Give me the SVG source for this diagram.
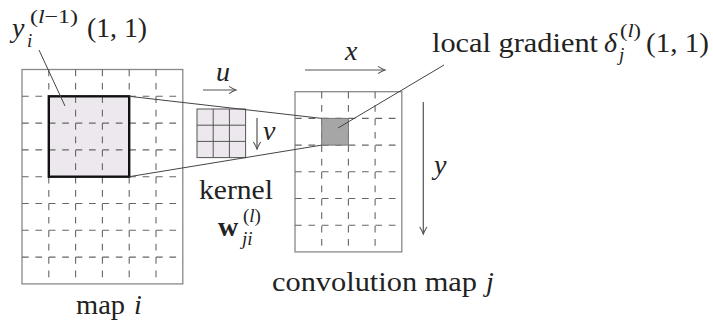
<svg xmlns="http://www.w3.org/2000/svg" width="713" height="324" viewBox="0 0 713 324">
<defs>
<marker id="ah" markerUnits="userSpaceOnUse" markerWidth="12" markerHeight="12" viewBox="-8 -6 10 12" refX="0" refY="0" orient="auto">
<path d="M -7 -3.6 Q -2.5 -0.8 0 0 Q -2.5 0.8 -7 3.6" fill="none" stroke="#555" stroke-width="1.1"/>
</marker>
<style>
.frame{fill:none;stroke:#888;stroke-width:1.3}
.dash{stroke:#666;stroke-width:1.1;stroke-dasharray:6.7 6.7;fill:none}
.kgrid{stroke:#555;stroke-width:1;fill:none}
.lead{stroke:#444;stroke-width:1;fill:none}
.arr{stroke:#555;stroke-width:1.2;fill:none;marker-end:url(#ah)}
text{fill:#222}
.t{font-size:28px}
.s{font-size:19px}
.it{font-style:italic}
</style>
</defs>
<rect width="713" height="324" fill="#fff"/>

<g font-family="Liberation Serif, Times New Roman, Times, DejaVu Serif, serif">
<g id="map-i">
<rect x="48.8" y="96.3" width="80.4" height="80.4" fill="#ede8ee"/>
<rect class="frame" x="22" y="69.5" width="160.8" height="214.4"/>
<g class="dash">
<path d="M48.8 69.5V283.9M75.6 69.5V283.9M102.4 69.5V283.9M129.2 69.5V283.9M156 69.5V283.9"/>
<path d="M22 96.3H182.8M22 123.1H182.8M22 149.9H182.8M22 176.7H182.8M22 203.5H182.8M22 230.3H182.8M22 257.1H182.8"/>
</g>
<rect x="48.8" y="96.3" width="80.4" height="80.4" fill="none" stroke="#111" stroke-width="2.4"/>
<text class="t" x="76" y="314" textLength="49" lengthAdjust="spacingAndGlyphs">map</text>
<text class="t it" x="134" y="314">i</text>
</g>

<g id="kernel">
<rect x="197" y="109" width="48.6" height="48.6" fill="#ede8ee" stroke="#555" stroke-width="1"/>
<path class="kgrid" d="M213.2 109V157.6M229.4 109V157.6M197 125.2H245.6M197 141.4H245.6"/>
<text class="t" x="199" y="199" textLength="74" lengthAdjust="spacingAndGlyphs">kernel</text>
<text class="t" x="218" y="236" font-weight="bold">w</text>
<text class="s" x="243" y="222"><tspan>(</tspan><tspan class="it">l</tspan><tspan>)</tspan></text>
<text class="s it" x="242" y="245">ji</text>
</g>

<g id="conv-map">
<rect class="frame" x="295" y="91.7" width="106.8" height="160.2"/>
<g class="dash">
<path d="M321.7 91.7V251.9M348.4 91.7V251.9M375.1 91.7V251.9"/>
<path d="M295 118.4H401.8M295 145.1H401.8M295 171.8H401.8M295 198.5H401.8M295 225.2H401.8"/>
</g>
<rect x="321.7" y="118.4" width="26.7" height="26.7" fill="#a6a6a6" stroke="#777" stroke-width="1"/>
<text class="t" x="272" y="291" textLength="205" lengthAdjust="spacingAndGlyphs">convolution map</text>
<text class="t it" x="486" y="291">j</text>
</g>

<g id="label-y-input">
<text class="t it" x="12" y="37">y</text>
<text class="s it" x="27" y="47">i</text>
<text class="s" x="30" y="23" textLength="48" lengthAdjust="spacingAndGlyphs">(<tspan class="it">l</tspan>−1)</text>
<text class="t" x="87" y="37" textLength="60" lengthAdjust="spacingAndGlyphs">(1, 1)</text>
</g>

<g id="label-gradient">
<text class="t" x="432" y="52" textLength="166" lengthAdjust="spacingAndGlyphs">local gradient</text>
<text class="t it" x="604" y="52">δ</text>
<text class="s it" x="619" y="61">j</text>
<text class="s" x="620" y="37" textLength="21" lengthAdjust="spacingAndGlyphs">(<tspan class="it">l</tspan>)</text>
<text class="t" x="646" y="52" textLength="63" lengthAdjust="spacingAndGlyphs">(1, 1)</text>
</g>

<g id="axis-labels">
<text class="t it" x="216" y="81">u</text>
<text class="t it" x="263" y="140">v</text>
<text class="t it" x="345" y="60">x</text>
<text class="t it" x="434" y="174">y</text>
</g>
</g>

<g id="connectors">
<line class="lead" x1="129.2" y1="96.3" x2="321.7" y2="118.4"/>
<line class="lead" x1="129.2" y1="176.7" x2="321.7" y2="145.1"/>
<line class="lead" x1="39" y1="50" x2="65" y2="106"/>
<line class="lead" x1="338" y1="128" x2="444" y2="65"/>
<line class="arr" x1="203" y1="90" x2="236" y2="90"/>
<line class="arr" x1="257" y1="118" x2="257" y2="149"/>
<line class="arr" x1="305" y1="70" x2="385" y2="70"/>
<line class="arr" x1="423.3" y1="102" x2="423.3" y2="234"/>
</g>
</svg>
